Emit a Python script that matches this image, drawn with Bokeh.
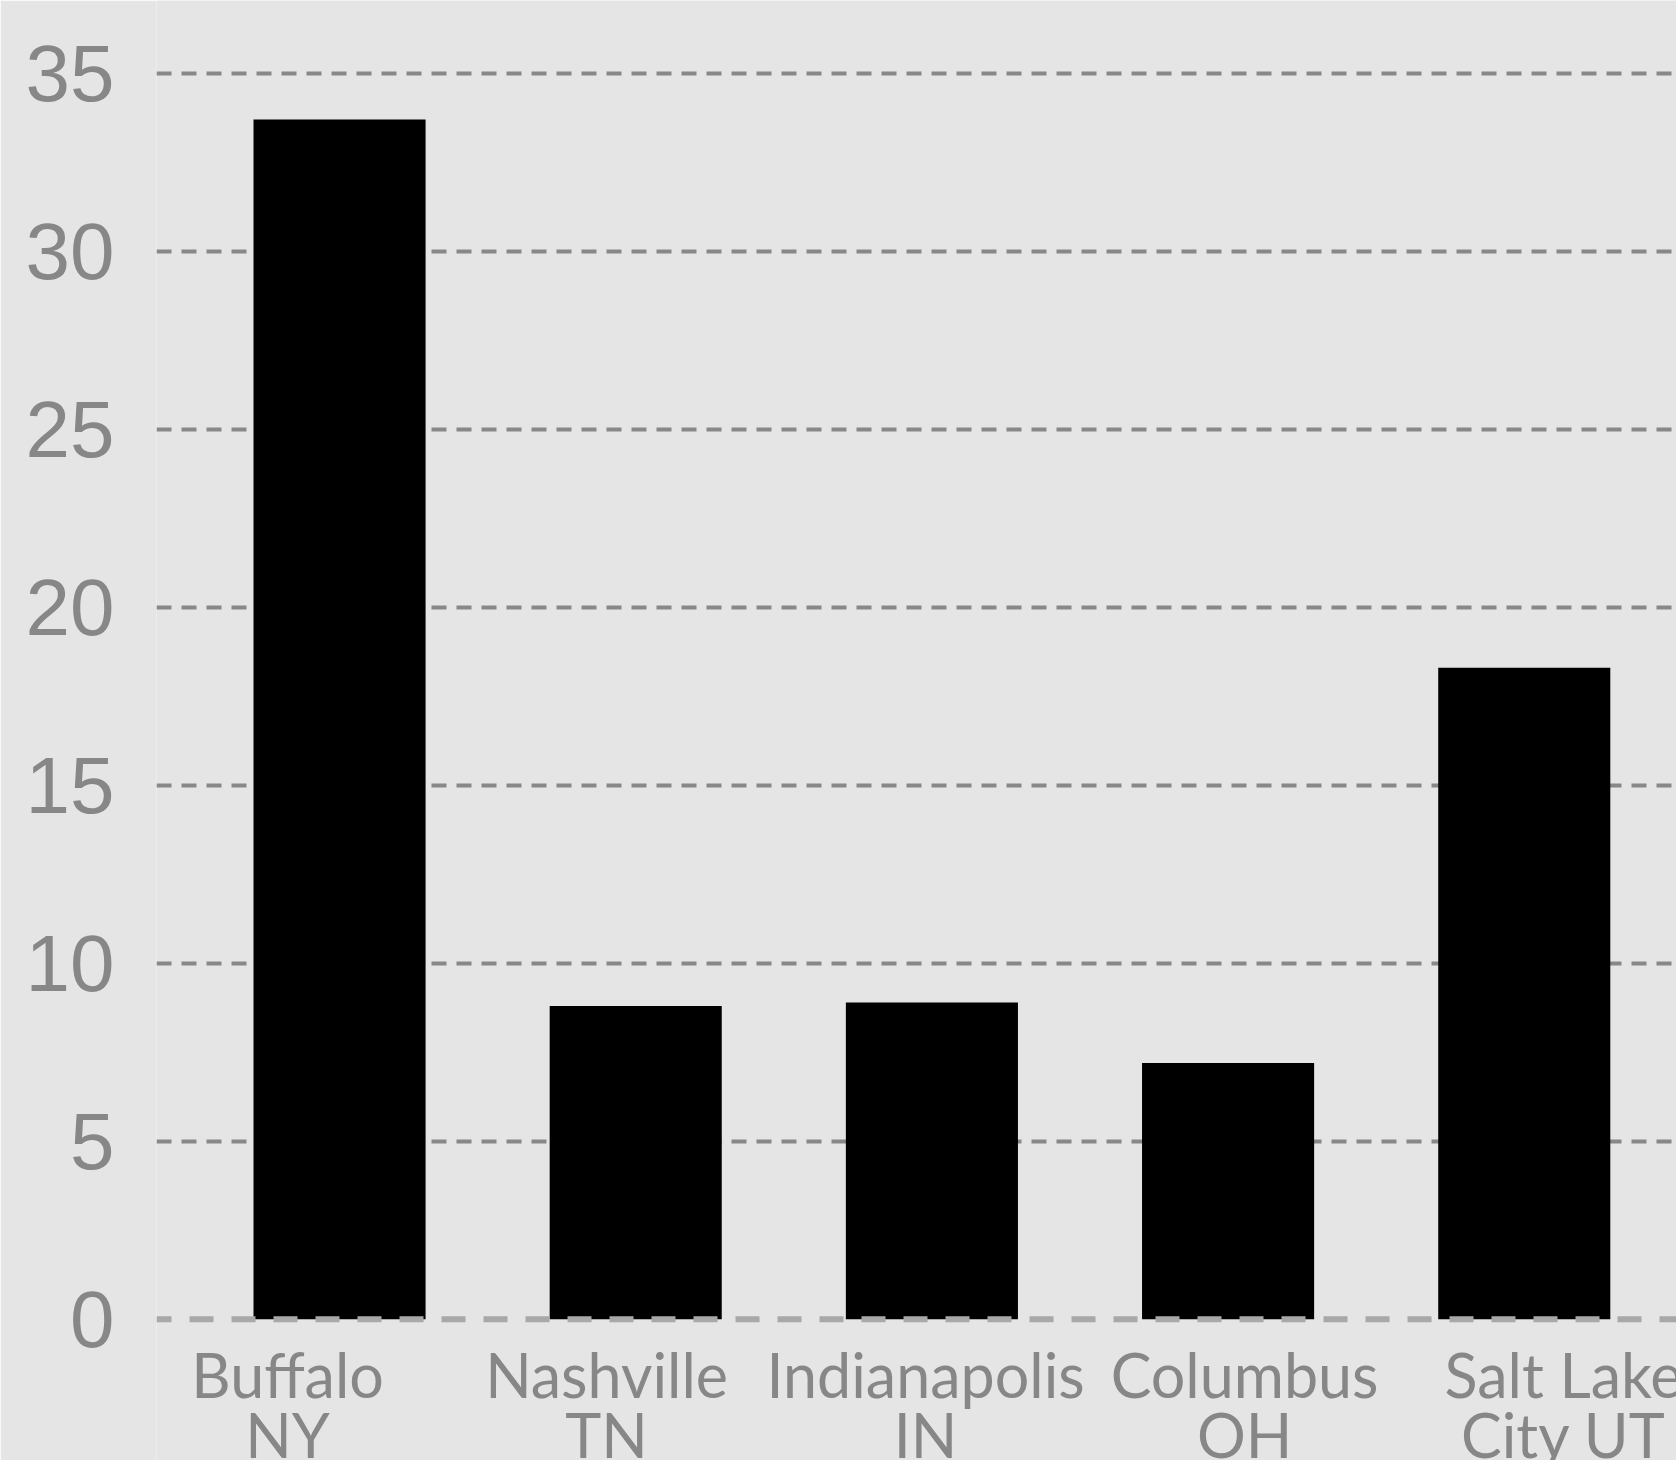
from bokeh.plotting import figure
from bokeh.models import ColumnDataSource, FixedTicker, Range1d, Span
from bokeh.core.properties import value
from bokeh.embed import file_html
from bokeh.resources import INLINE

# ---- data ----
cities = ["Buffalo", "Nashville", "Indianapolis", "Columbus", "Salt Lake"]
states = ["NY", "TN", "IN", "OH", "City UT"]
values = [33.7, 8.8, 8.9, 7.2, 18.3]
y_ticks = [0, 5, 10, 15, 20, 25, 30, 35]

idx = list(range(len(cities)))
src = ColumnDataSource(dict(x=idx, top=values, city=cities, state=states))

BG = "#e5e5e5"
GRID = "#888888"
TXT = "#878787"

p = figure(width=1676, height=1460, output_backend="svg", toolbar_location=None,
           x_range=Range1d(-0.618, 4.514), y_range=Range1d(-3.966, 37.042),
           min_border_left=156, min_border_right=0, min_border_top=0, min_border_bottom=0)
p.background_fill_color = BG
p.border_fill_color = BG
p.outline_line_color = None

# separate scale for the category labels (slightly wider spacing than the bars)
p.extra_x_ranges = {"labels": Range1d(-0.411, 4.354)}

p.xaxis.visible = False
p.xgrid.visible = False

yax = p.yaxis[0]
yax.ticker = FixedTicker(ticks=y_ticks)
yax.axis_line_color = None
yax.major_tick_line_color = None
yax.minor_tick_line_color = None
yax.major_tick_out = 0
yax.major_label_standoff = 42
yax.major_label_text_font = "Liberation Sans"
yax.major_label_text_font_size = "80px"
yax.major_label_text_color = TXT

p.ygrid.ticker = FixedTicker(ticks=y_ticks[1:])
p.ygrid.grid_line_color = GRID
p.ygrid.grid_line_width = 4
p.ygrid.grid_line_dash = "15 10"

p.vbar(x="x", top="top", bottom=0, width=0.581, source=src,
       fill_color="black", line_color=None)

zero = Span(location=0, dimension="width", line_color="#a8a8a8", line_width=6,
            line_dash="24 18", line_dash_offset=9)
p.add_layout(zero)

p.text(x="x", y=0, text="city", source=src, x_range_name="labels",
       text_align="center", text_baseline="alphabetic", y_offset=55,
       text_font=value("Lato"), text_font_size="61px", text_color=TXT)
p.text(x="x", y=0, text="state", source=src, x_range_name="labels",
       text_align="center", text_baseline="alphabetic", y_offset=115,
       text_font=value("Lato"), text_font_size="61px", text_color=TXT)

open("out.html", "w").write(file_html(p, INLINE))
